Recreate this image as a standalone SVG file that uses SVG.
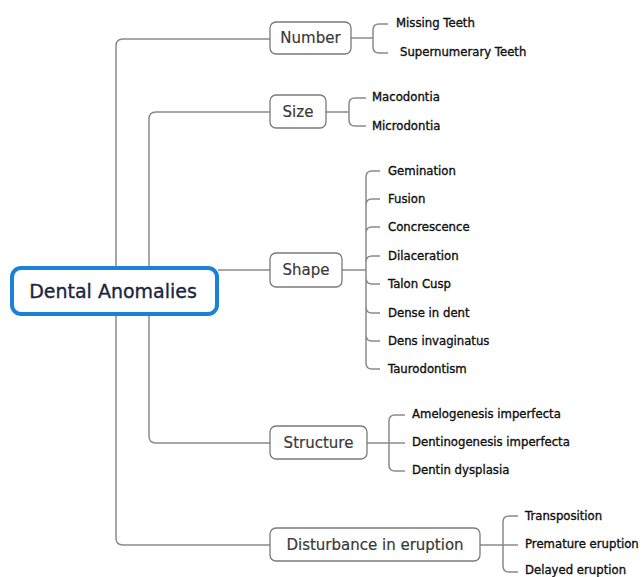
<svg xmlns="http://www.w3.org/2000/svg" width="643" height="577" viewBox="0 0 643 577">
<style>
.c{fill:none;stroke:#8a8a8a;stroke-width:1.5}
.b{fill:#fff;stroke:#7a7a7a;stroke-width:1.3}
.bt{font-family:"DejaVu Sans",Verdana,sans-serif;font-size:15px;fill:#3a3a3a;stroke:#3a3a3a;stroke-width:0.2;dominant-baseline:central}
.t{font-family:"DejaVu Sans",Verdana,sans-serif;font-size:11.7px;fill:#111;stroke:#111;stroke-width:0.35;dominant-baseline:central}
</style>
<rect width="643" height="577" fill="#fff"/>
<g id="connectors">
<path class="c" d="M116 267V46q0-7 7-7H270"/>
<path class="c" d="M149 267V119q0-7 7-7H270"/>
<path class="c" d="M218 270H270"/>
<path class="c" d="M149 315V436q0 7 7 7H270"/>
<path class="c" d="M116 315V538q0 7 7 7H270"/>
<path class="c" d="M351 38H373M373 38V30q0-6 6-6H388M373 38V47q0 6 6 6H388"/>
<path class="c" d="M326 112H349M349 112V104q0-6 6-6H366M349 112V120q0 6 6 6H366"/>
<path class="c" d="M342 270H366"/>
<path class="c" d="M366 270V177q0-6 6-6H380M366 270V205q0-6 6-6H380M366 270V233q0-6 6-6H380M366 270V262q0-6 6-6H380M366 270V278q0 6 6 6H380M366 270V307q0 6 6 6H380M366 270V335q0 6 6 6H380M366 270V363q0 6 6 6H380"/>
<path class="c" d="M367 443H405M389 443V421q0-6 6-6H405M389 443V465q0 6 6 6H405"/>
<path class="c" d="M480 545H518M503 545V522q0-6 6-6H518M503 545V566q0 6 6 6H518"/>
</g>
<g id="root">
<rect x="12" y="268" width="205" height="46" rx="9" fill="#fff" stroke="#1a82d6" stroke-width="4"/>
<text x="113" y="291" text-anchor="middle" font-family="DejaVu Sans,Verdana,sans-serif" font-size="19" fill="#1c2540" stroke="#1c2540" stroke-width="0.35" dominant-baseline="central">Dental Anomalies</text>
</g>
<g id="number">
<rect class="b" x="270" y="22" width="81" height="32" rx="6"/>
<text class="bt" x="310.5" y="38" text-anchor="middle">Number</text>
</g>
<g id="size">
<rect class="b" x="270" y="95" width="56" height="33" rx="6"/>
<text class="bt" x="298" y="111.5" text-anchor="middle">Size</text>
</g>
<g id="shape">
<rect class="b" x="270" y="253" width="72" height="34" rx="6"/>
<text class="bt" x="306" y="270" text-anchor="middle">Shape</text>
</g>
<g id="structure">
<rect class="b" x="270" y="426" width="97" height="33" rx="6"/>
<text class="bt" x="318.5" y="442.5" text-anchor="middle">Structure</text>
</g>
<g id="disturbance">
<rect class="b" x="270" y="528" width="210" height="33" rx="6"/>
<text class="bt" x="375" y="544.5" text-anchor="middle">Disturbance in eruption</text>
</g>
<g id="number-children">
<text class="t" x="396" y="23">Missing Teeth</text>
<text class="t" x="400" y="52">Supernumerary Teeth</text>
</g>
<g id="size-children">
<text class="t" x="372" y="97">Macodontia</text>
<text class="t" x="372" y="126">Microdontia</text>
</g>
<g id="shape-children">
<text class="t" x="388" y="171">Gemination</text>
<text class="t" x="388" y="199">Fusion</text>
<text class="t" x="388" y="227">Concrescence</text>
<text class="t" x="388" y="256">Dilaceration</text>
<text class="t" x="388" y="284">Talon Cusp</text>
<text class="t" x="388" y="313">Dense in dent</text>
<text class="t" x="388" y="341">Dens invaginatus</text>
<text class="t" x="388" y="369">Taurodontism</text>
</g>
<g id="structure-children">
<text class="t" x="412" y="414">Amelogenesis imperfecta</text>
<text class="t" x="412" y="442">Dentinogenesis imperfecta</text>
<text class="t" x="412" y="470">Dentin dysplasia</text>
</g>
<g id="disturbance-children">
<text class="t" x="525" y="516">Transposition</text>
<text class="t" x="525" y="544">Premature eruption</text>
<text class="t" x="525" y="570">Delayed eruption</text>
</g>
</svg>
